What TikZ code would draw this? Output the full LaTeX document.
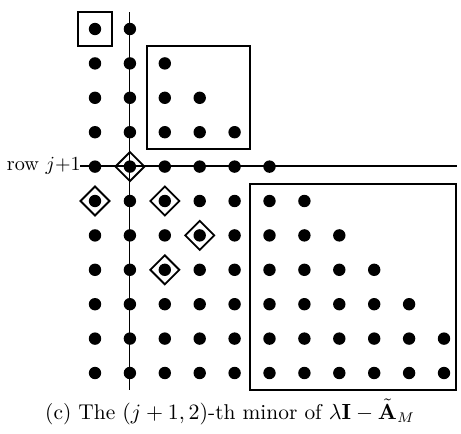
\documentclass[tikz,border=0pt]{standalone}
\usepackage{amsmath}
\usetikzlibrary{calc}
\begin{document}
\begin{tikzpicture}[x=0.5pt,y=-0.5pt,
  dotn/.style={circle,fill=black,inner sep=0pt,minimum size=6.2pt},
  frame/.style={draw=black,line width=0.9pt},
  axis/.style={draw=black,line width=0.9pt},
  diam/.style={line width=0.9pt},
  txt/.style={font=\fontsize{10.7}{13}\selectfont},
  lbltxt/.style={font=\fontsize{10.1}{12}\selectfont}]
\useasboundingbox (0,0) rectangle (461,434);
% dots
\foreach \r in {1,...,11}{
  \pgfmathtruncatemacro{\cmax}{min(\r+1,11)}
  \foreach \c in {1,...,\cmax}{
    \node[dotn] (d\r-\c) at ({95+34.9*(\c-1)},{29+34.4*(\r-1)}) {};
  }
}
% boxes
\draw[frame] (78,12) rectangle (112,46);
\draw[frame] (147,46) rectangle (250,149);
\draw[frame] (250,184) rectangle (456,390);
% lines
\coordinate (vt) at (129.5,12);
\coordinate (vb) at (129.5,390);
\coordinate (hl) at (80,166);
\coordinate (hr) at (457,166);
\draw[axis] (vt) -- (vb);
\draw[axis] (hl) -- (hr);
% diamonds
\foreach \p in {5-2,6-1,6-3,7-4,8-3}{
  \draw[diam] ($(d\p)+(0,-14.5)$) -- ($(d\p)+(14.5,0)$) -- ($(d\p)+(0,14.5)$) -- ($(d\p)+(-14.5,0)$) -- cycle;
}
% label
\node[lbltxt,anchor=east,inner sep=0pt] (lbl) at (81,166) {row $j{+}1$};
\node[txt] (cap) at (230,412) {(c) The $(j+1,2)$-th minor of $\lambda\mathbf{I}-\tilde{\mathbf{A}}_M$};
\end{tikzpicture}
\end{document}
